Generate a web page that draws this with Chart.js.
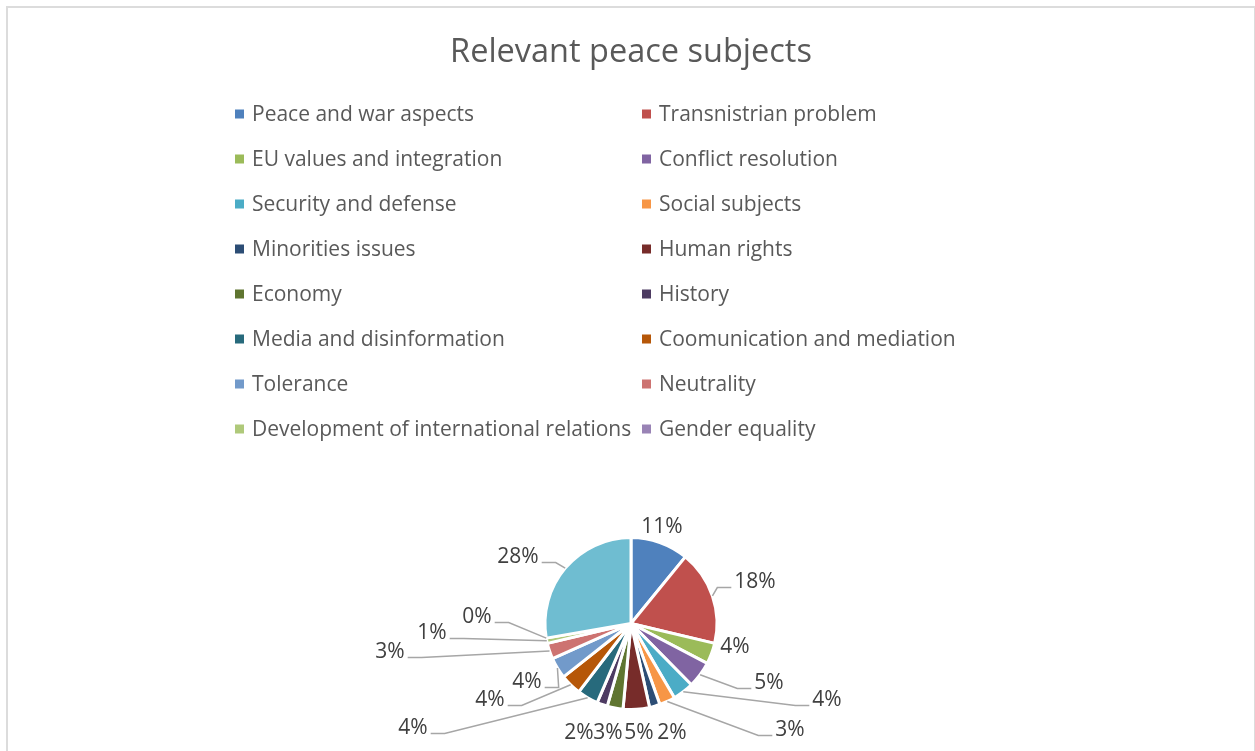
<!DOCTYPE html>
<html>
<head>
<meta charset="utf-8">
<title>Relevant peace subjects</title>
<script src="https://cdn.jsdelivr.net/npm/chart.js@4.4.1/dist/chart.umd.min.js"></script>
<style>
  html, body { margin: 0; padding: 0; background: #fff; overflow: hidden; }
  #frame {
    position: absolute; left: 6px; top: 6px;
    width: 1246px; height: 800px;
    border: 2px solid #dcdcdc;
  }
  #chart { position: absolute; left: 0; top: 0; }
</style>
</head>
<body>
<div id="frame"></div>
<canvas id="chart" width="1255" height="751"></canvas>
<script>
// ─── Data ────────────────────────────────────────────────
const subjects = [
  'Peace and war aspects', 'Transnistrian problem',
  'EU values and integration', 'Conflict resolution',
  'Security and defense', 'Social subjects',
  'Minorities issues', 'Human rights',
  'Economy', 'History',
  'Media and disinformation', 'Coomunication and mediation',
  'Tolerance', 'Neutrality',
  'Development of international relations', 'Gender equality',
  'Other'
];
const shares = [11, 18, 4, 5, 4, 3, 2, 5, 3, 2, 4, 4, 4, 3, 1, 0, 28];

// office palette: base, darker, lighter
const sliceColors = [
  '#4F81BD', '#C0504D', '#9BBB59', '#8064A2', '#4BACC6', '#F79646',
  '#2C4D75', '#772C2A', '#5F7530', '#4D3B62', '#276A7C', '#B65708',
  '#729ACA', '#CD7371', '#AFC97A', '#9983B5', '#6FBDD1'
];

// ─── Layout bits ─────────────────────────────────────────
const FONT = '"Open Sans", "Liberation Sans", sans-serif';
const legendCols = [235, 642];
const legendTop = 114, legendStep = 45, legendRows = 8;

// label spot relative to the pie centre: [dx, dy, hasLeader]
const labelSpots = [
  [31, -96, false], [124, -41, true], [104, 24, false], [138, 60, true],
  [196, 77, true], [159, 107, true], [41, 110, false], [8, 110, false],
  [-23, 110, false], [-52, 110, false], [-218, 105, true], [-141, 77, true],
  [-104, 59, true], [-241, 29, true], [-199, 10, true], [-154, -6, true],
  [-113, -66, true]
];

// ─── Legend: two fixed columns, Excel style ──────────────
const gridLegend = {
  id: 'gridLegend',
  afterDraw(chart) {
    const ctx = chart.ctx;
    const names = chart.data.labels;
    const colors = chart.data.datasets[0].backgroundColor;
    ctx.save();
    ctx.font = '21px ' + FONT;
    ctx.textBaseline = 'middle';
    ctx.textAlign = 'left';
    for (let i = 0; i < Math.min(names.length, legendRows * 2); i++) {
      const x = legendCols[i % 2];
      const y = legendTop + Math.floor(i / 2) * legendStep;
      ctx.fillStyle = colors[i];
      ctx.fillRect(x, y - 4.5, 9, 9);
      ctx.fillStyle = '#595959';
      ctx.fillText(names[i], x + 17, y + 1);
    }
    ctx.restore();
  }
};

// ─── Percent labels with leader lines ────────────────────
const pieLabels = {
  id: 'pieLabels',
  afterDatasetsDraw(chart) {
    const ctx = chart.ctx;
    const meta = chart.getDatasetMeta(0);
    const values = chart.data.datasets[0].data;
    const total = values.reduce((a, b) => a + b, 0);
    ctx.save();
    ctx.font = '21px ' + FONT;
    ctx.textAlign = 'center';
    ctx.textBaseline = 'middle';
    ctx.strokeStyle = '#a6a6a6';
    ctx.lineWidth = 1.5;
    meta.data.forEach((arc, i) => {
      const { x, y, startAngle, endAngle, outerRadius } =
        arc.getProps(['x', 'y', 'startAngle', 'endAngle', 'outerRadius'], true);
      const mid = (startAngle + endAngle) / 2;
      const ax = x + Math.cos(mid) * outerRadius;
      const ay = y + Math.sin(mid) * outerRadius;
      const [dx, dy, leader] = labelSpots[i];
      const lx = x + dx, ly = y + dy;
      const text = Math.round(values[i] / total * 100) + '%';
      if (leader) {
        const w = ctx.measureText(text).width;
        const side = lx > ax ? -1 : 1;
        const ex = lx + side * (w / 2 + 3);
        const ry = ly + 5;
        ctx.beginPath();
        ctx.moveTo(ax, ay);
        ctx.lineTo(ex + side * 14, ry);
        ctx.lineTo(ex, ry);
        ctx.stroke();
      }
      ctx.fillStyle = '#404040';
      ctx.fillText(text, lx, ly);
    });
    ctx.restore();
  }
};

new Chart(document.getElementById('chart'), {
  type: 'pie',
  data: {
    labels: subjects,
    datasets: [{
      data: shares,
      backgroundColor: sliceColors,
      borderColor: '#ffffff',
      borderWidth: 3,
      radius: 86
    }]
  },
  options: {
    responsive: false,
    animation: false,
    events: [],
    layout: { padding: { left: 7, right: 0, top: 0, bottom: 0 } },
    plugins: {
      legend: { display: false },
      tooltip: { enabled: false },
      title: {
        display: true,
        text: 'Relevant peace subjects',
        color: '#595959',
        font: { family: FONT, size: 32.5, weight: 'normal' },
        padding: { top: 33, bottom: 424 }
      }
    }
  },
  plugins: [gridLegend, pieLabels]
});
</script>
</body>
</html>
